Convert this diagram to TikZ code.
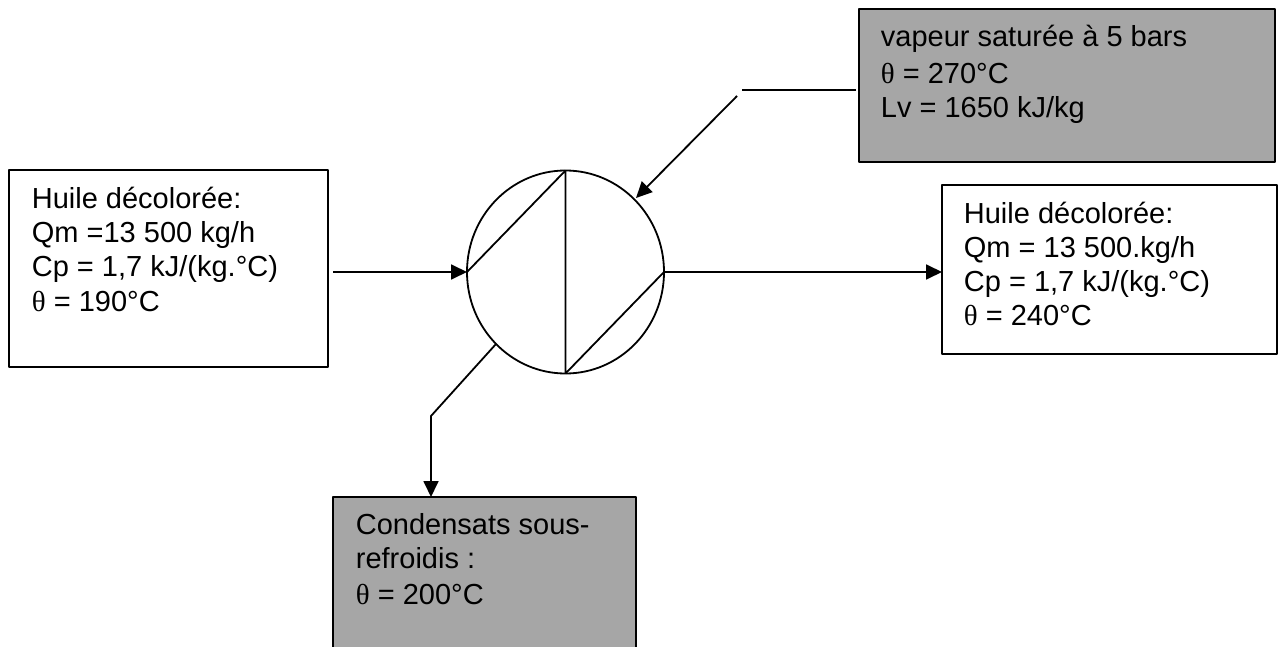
\documentclass[tikz,border=0pt]{standalone}
\usepackage{fontspec}
\setmainfont{Liberation Sans}
\newfontfamily\thetafont{Liberation Serif}
\usetikzlibrary{arrows.meta,shapes.geometric}
\definecolor{boxgray}{HTML}{A6A6A6}
\newcommand{\thetasym}{{\thetafont θ}}
\tikzset{
  box/.style={draw,anchor=north west,inner sep=0pt,outer sep=0pt},
  boxtext/.style={anchor=north west,align=left,font=\fontsize{29pt}{34pt}\selectfont,inner sep=0pt},
  flow/.style={-{Triangle[length=16pt,width=15pt]}}
}
\begin{document}
\begin{tikzpicture}[x=1pt,y=-1pt,line width=1.8pt,line join=bevel]
    \useasboundingbox (0,0) rectangle (1282,647);

    % boxes
    \node[box,fill=boxgray,minimum width=416pt,minimum height=153pt] (vapeur) at (859,9) {};
    \node[box,fill=white,minimum width=319pt,minimum height=197pt] (entree) at (9,170) {};
    \node[box,fill=white,minimum width=335pt,minimum height=169pt] (sortie) at (942,185) {};
    \node[box,fill=boxgray,minimum width=303pt,minimum height=160pt] (condensats) at (333,497) {};

    \node[boxtext] (vapeurtxt) at (880,24.5) {vapeur saturée à 5 bars\\[3pt]\thetasym{} = 270°C\\Lv = 1650 kJ/kg};
    \node[boxtext] (entreetxt) at (31,186.5) {Huile décolorée:\\Qm =13 500 kg/h\\Cp = 1,7 kJ/(kg.°C)\\[1pt]\thetasym{} = 190°C};
    \node[boxtext] (sortietxt) at (963,201.5) {Huile décolorée:\\Qm = 13 500.kg/h\\Cp = 1,7 kJ/(kg.°C)\\\thetasym{} = 240°C};
    \node[boxtext] (condensatstxt) at (355,513) {Condensats sous-\\refroidis :\\[2pt]\thetasym{} = 200°C};

    % exchanger
    \node[draw,ellipse,minimum width=197pt,minimum height=203pt,inner sep=0pt,outer sep=0pt] (echangeur) at (565.5,272) {};
    \draw (echangeur.west) -- (echangeur.north) -- (echangeur.south) -- (echangeur.east);

    % connectors
    \coordinate (e0) at (333,272);
    \draw[flow] (e0) -- (echangeur.west);
    \draw[flow] (echangeur.east) -- (sortie.west |- echangeur.east);
    \coordinate (v0) at (856,90);
    \coordinate (v1) at (742,90);
    \coordinate (v2) at (737,96);
    \coordinate (v3) at (636,198);
    \draw (v0) -- (v1);
    \draw[flow] (v2) -- (v3);
    \coordinate (c0) at (496,344);
    \coordinate (c1) at (431,416);
    \draw[flow] (c0) -- (c1) -- (c1 |- condensats.north);
\end{tikzpicture}
\end{document}
